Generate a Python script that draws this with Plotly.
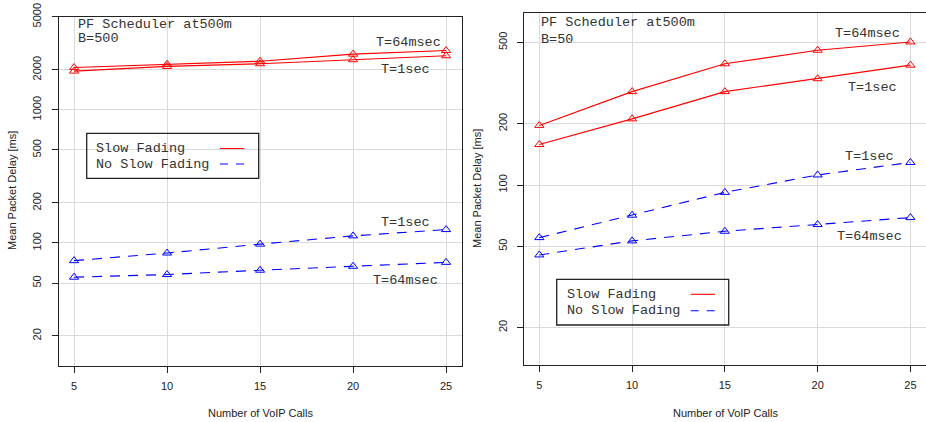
import math
import plotly.graph_objects as go

# ---------------- data ----------------
calls = [5, 10, 15, 20, 25]

# Left panel: PF Scheduler at 500m, B=500
b500_slow_64ms = [2080, 2200, 2320, 2620, 2790]
b500_slow_1s = [1955, 2120, 2220, 2380, 2550]
b500_noslow_1s = [73.6, 84, 98, 113, 126]
b500_noslow_64ms = [55.3, 57.9, 62.4, 66.8, 71.5]

# Right panel: PF Scheduler at 500m, B=50
b50_slow_64ms = [196, 287, 393, 458, 503]
b50_slow_1s = [158, 211, 287, 332, 387]
b50_noslow_1s = [55.2, 71.1, 92, 112, 129]
b50_noslow_64ms = [45.4, 53.2, 59.3, 64, 69.2]

x_ticks = [5, 10, 15, 20, 25]
left_yticks = [20, 50, 100, 200, 500, 1000, 2000, 5000]
right_yticks = [20, 50, 100, 200, 500]

series_labels = ["Slow Fading", "No Slow Fading"]
# ---------------------------------------

W, H = 926, 422


def px(x):
    return x / W


def py(y):
    return 1 - y / H


RED = "#ff0000"
BLUE = "#0000ff"
DASH = "10px,8px"
MONO = "Liberation Mono, Courier New, monospace"
SANS = "Liberation Sans, Arial, Helvetica, sans-serif"

fig = go.Figure()


def add_line(x, y, color, dash, xa, ya, name):
    fig.add_trace(go.Scatter(
        x=x, y=y, mode="lines+markers", name=name,
        xaxis=xa, yaxis=ya, showlegend=False,
        line=dict(color=color, width=1.1, dash=dash),
        marker=dict(symbol="triangle-up-open", size=8, color=color,
                    line=dict(width=1, color=color)),
    ))


add_line(calls, b500_slow_64ms, RED, "solid", "x", "y", "Slow Fading T=64msec")
add_line(calls, b500_slow_1s, RED, "solid", "x", "y", "Slow Fading T=1sec")
add_line(calls, b500_noslow_1s, BLUE, DASH, "x", "y", "No Slow Fading T=1sec")
add_line(calls, b500_noslow_64ms, BLUE, DASH, "x", "y", "No Slow Fading T=64msec")

add_line(calls, b50_slow_64ms, RED, "solid", "x2", "y2", "Slow Fading T=64msec")
add_line(calls, b50_slow_1s, RED, "solid", "x2", "y2", "Slow Fading T=1sec")
add_line(calls, b50_noslow_1s, BLUE, DASH, "x2", "y2", "No Slow Fading T=1sec")
add_line(calls, b50_noslow_64ms, BLUE, DASH, "x2", "y2", "No Slow Fading T=64msec")

tickfont = dict(family=SANS, size=11, color="#222")
axis_common = dict(
    showline=True, linecolor="#222", linewidth=1.3,
    ticks="outside", ticklen=6, tickcolor="#222", tickwidth=1,
    showgrid=True, gridcolor="#dadada", gridwidth=1,
    zeroline=False, tickfont=tickfont, automargin=False,
)

xrange = [4.19, 25.84]

fig.update_layout(
    template="none",
    width=W, height=H,
    margin=dict(l=0, r=0, t=0, b=0, autoexpand=False),
    paper_bgcolor="white", plot_bgcolor="white",
    showlegend=False,
    xaxis=dict(domain=[px(59), px(461.7)], anchor="y", range=xrange,
               tickvals=x_ticks, ticktext=[str(v) for v in x_ticks],
               mirror=True, ticklabelstandoff=4, **axis_common),
    yaxis=dict(domain=[py(366), py(16.7)], anchor="x", type="log",
               range=[math.log10(11.9), math.log10(5010)],
               tickvals=left_yticks, ticktext=[str(v) for v in left_yticks],
               tickangle=-90, mirror=True, ticklabelstandoff=6, **axis_common),
    xaxis2=dict(domain=[px(524.3), 1.0], anchor="y2", range=xrange,
                tickvals=x_ticks, ticktext=[str(v) for v in x_ticks],
                mirror=True, ticklabelstandoff=4, **axis_common),
    yaxis2=dict(domain=[py(365), py(13.3)], anchor="x2", type="log",
                range=[math.log10(13.1), math.log10(695)],
                tickvals=right_yticks, ticktext=[str(v) for v in right_yticks],
                tickangle=-90, mirror=False, ticklabelstandoff=6, **axis_common),
)

annotations = []


def txt(text, x, y, xanchor="center", font=MONO, size=13.5, color="#333", angle=0):
    annotations.append(dict(
        text=text, x=px(x), y=py(y), xref="paper", yref="paper",
        xanchor=xanchor, yanchor="middle", showarrow=False,
        textangle=angle, font=dict(family=font, size=size, color=color),
    ))


# Left panel texts
txt("PF Scheduler at500m", 76, 24.5, "left")
txt("B=500", 76, 38, "left")
txt("T=64msec", 408, 42.7)
txt("T=1sec", 405, 69.5)
txt("T=1sec", 405, 222.7)
txt("T=64msec", 405, 280)

# Right panel texts
txt("PF Scheduler at500m", 539, 23, "left")
txt("B=50", 539, 39.5, "left")
txt("T=64msec", 867, 33.3)
txt("T=1sec", 872, 87.3)
txt("T=1sec", 869.5, 156)
txt("T=64msec", 869, 236.7)

# Axis titles
txt("Mean Packet Delay [ms]", 12, 191, font=SANS, size=11, color="#222", angle=-90)
txt("Mean Packet Delay [ms]", 477, 189, font=SANS, size=11, color="#222", angle=-90)
txt("Number of VoIP Calls", 260, 412.5, font=SANS, size=11, color="#222")
txt("Number of VoIP Calls", 725, 412.5, font=SANS, size=11, color="#222")

shapes = []


def legend_box(x0, x1, y0, y1, tx, ty1, ty2, lx0, lx1):
    shapes.append(dict(type="rect", xref="paper", yref="paper",
                       x0=px(x0), x1=px(x1), y0=py(y1), y1=py(y0),
                       line=dict(color="#222", width=1.3), fillcolor="rgba(0,0,0,0)"))
    txt(series_labels[0], tx, ty1, "left")
    txt(series_labels[1], tx, ty2, "left")
    shapes.append(dict(type="line", xref="paper", yref="paper",
                       x0=px(lx0), x1=px(lx1), y0=py(ty1), y1=py(ty1),
                       line=dict(color=RED, width=1.1)))
    shapes.append(dict(type="line", xref="paper", yref="paper",
                       x0=px(lx0), x1=px(lx1), y0=py(ty2), y1=py(ty2),
                       line=dict(color=BLUE, width=1.1, dash="8px,8px")))


legend_box(86.7, 258.7, 133.3, 178.3, 94, 148.5, 164, 220, 244.3)
legend_box(556.7, 728.7, 279.3, 325, 565, 294.3, 310.7, 690.7, 715)

fig.update_layout(annotations=annotations, shapes=shapes)

fig.write_html("out.html")
